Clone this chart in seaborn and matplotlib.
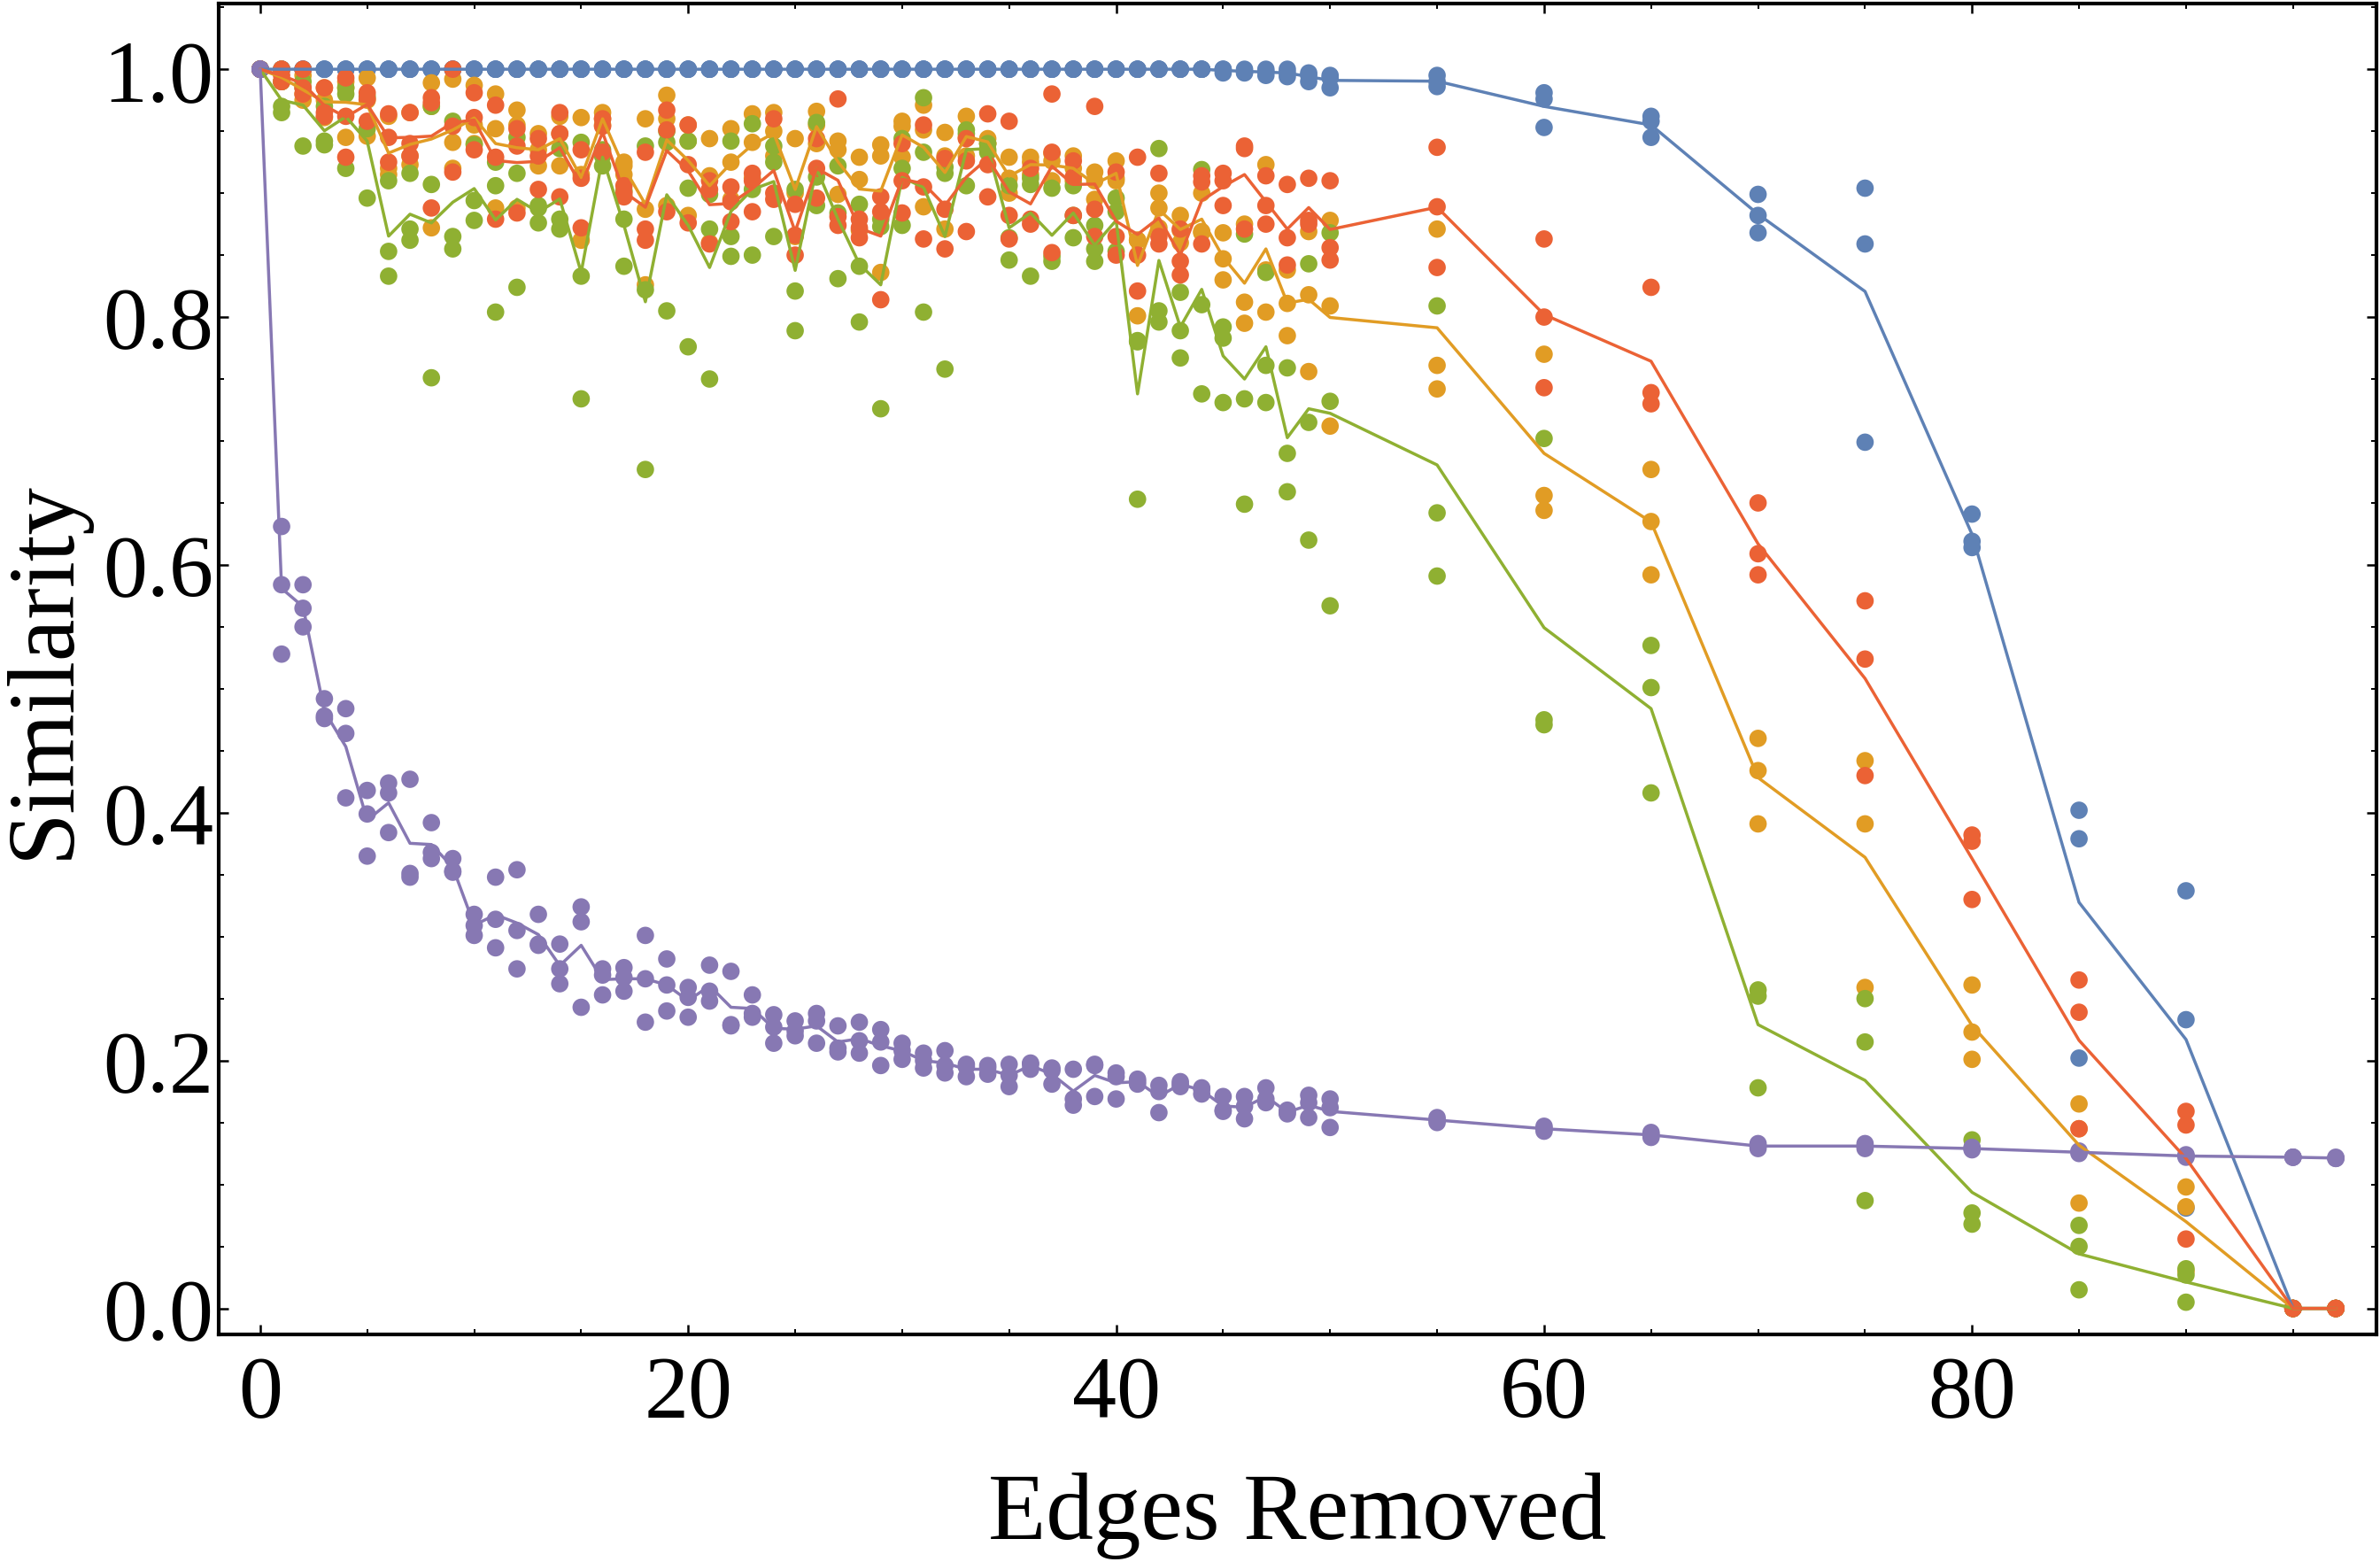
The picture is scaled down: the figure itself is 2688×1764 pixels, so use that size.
#!/usr/bin/env python
# coding: utf-8
# Similarity vs number of edges removed, 3 runs per point + mean line

import numpy as np
import pandas as pd
import matplotlib
matplotlib.use("Agg")
import matplotlib.pyplot as plt
from matplotlib.ticker import MultipleLocator
import seaborn as sns

#%% data (three runs per x value)

edges = list(range(51)) + [55, 60, 65, 70, 75, 80, 85, 90, 95, 97]

blue_sim = [(1, 1, 1)] * 45 + [
    (1, 1, 0.997), (1, 0.998, 0.997), (1, 0.998, 0.995), (1.0, 0.997, 0.994),
    (0.997, 0.995, 0.99), (0.995, 0.993, 0.985),
    (0.995, 0.99, 0.986), (0.981, 0.976, 0.953), (0.962, 0.958, 0.945),
    (0.899, 0.882, 0.868), (0.904, 0.859, 0.699), (0.641, 0.619, 0.614),
    (0.402, 0.379, 0.202), (0.337, 0.233, 0.081), (0, 0, 0), (0, 0, 0),
]

orange_sim = [
    (1, 1, 1), (1.0, 0.99, 0.99), (0.995, 0.98, 0.975), (0.985, 0.975, 0.961),
    (0.99, 0.985, 0.945), (0.993, 0.975, 0.946), (0.962, 0.92, 0.915),
    (0.965, 0.93, 0.923), (0.989, 0.97, 0.872), (0.992, 0.941, 0.92),
    (0.987, 0.955, 0.94), (0.98, 0.952, 0.888), (0.967, 0.955, 0.888),
    (0.948, 0.935, 0.922), (0.962, 0.948, 0.922), (0.961, 0.915, 0.862),
    (0.965, 0.96, 0.955), (0.925, 0.922, 0.915), (0.96, 0.887, 0.826),
    (0.979, 0.96, 0.89), (0.955, 0.942, 0.882), (0.944, 0.914, 0.86),
    (0.952, 0.925, 0.895), (0.964, 0.941, 0.912), (0.965, 0.95, 0.93),
    (0.944, 0.9, 0.865), (0.966, 0.955, 0.94), (0.942, 0.935, 0.899),
    (0.929, 0.911, 0.87), (0.939, 0.93, 0.836), (0.958, 0.954, 0.929),
    (0.971, 0.951, 0.889), (0.949, 0.93, 0.871), (0.962, 0.945, 0.93),
    (0.944, 0.94, 0.94), (0.929, 0.912, 0.9), (0.929, 0.925, 0.915),
    (0.932, 0.926, 0.91), (0.93, 0.92, 0.91), (0.917, 0.91, 0.895),
    (0.926, 0.912, 0.91), (0.862, 0.862, 0.801), (0.9, 0.888, 0.872),
    (0.882, 0.87, 0.86), (0.9, 0.869, 0.868), (0.868, 0.847, 0.83),
    (0.875, 0.812, 0.795), (0.923, 0.838, 0.804), (0.838, 0.811, 0.785),
    (0.869, 0.818, 0.756), (0.878, 0.809, 0.712),
    (0.871, 0.761, 0.742), (0.77, 0.656, 0.644), (0.677, 0.635, 0.592),
    (0.46, 0.434, 0.391), (0.442, 0.391, 0.259), (0.261, 0.223, 0.201),
    (0.165, 0.145, 0.085), (0.098, 0.082, 0.03), (0, 0, 0), (0, 0, 0),
]

green_sim = [
    (1, 1, 1), (0.99, 0.97, 0.965), (0.99, 0.985, 0.938), (0.97, 0.942, 0.939),
    (0.985, 0.98, 0.92), (0.978, 0.952, 0.896), (0.91, 0.853, 0.833),
    (0.916, 0.871, 0.862), (0.97, 0.907, 0.751), (0.958, 0.865, 0.855),
    (0.939, 0.894, 0.878), (0.925, 0.906, 0.804), (0.945, 0.916, 0.824),
    (0.89, 0.888, 0.876), (0.936, 0.879, 0.871), (0.941, 0.833, 0.734),
    (0.935, 0.93, 0.922), (0.902, 0.879, 0.841), (0.938, 0.822, 0.677),
    (0.95, 0.941, 0.805), (0.942, 0.904, 0.776), (0.899, 0.871, 0.75),
    (0.942, 0.865, 0.849), (0.956, 0.903, 0.85), (0.938, 0.925, 0.865),
    (0.903, 0.821, 0.789), (0.957, 0.913, 0.89), (0.922, 0.884, 0.831),
    (0.891, 0.841, 0.796), (0.879, 0.873, 0.726), (0.944, 0.92, 0.874),
    (0.977, 0.933, 0.804), (0.921, 0.916, 0.758), (0.951, 0.948, 0.906),
    (0.94, 0.935, 0.933), (0.906, 0.864, 0.846), (0.912, 0.907, 0.833),
    (0.904, 0.849, 0.845), (0.906, 0.882, 0.864), (0.874, 0.855, 0.845),
    (0.896, 0.885, 0.853), (0.781, 0.78, 0.653), (0.936, 0.805, 0.796),
    (0.82, 0.789, 0.767), (0.919, 0.81, 0.738), (0.792, 0.783, 0.731),
    (0.867, 0.734, 0.649), (0.836, 0.761, 0.731), (0.759, 0.69, 0.659),
    (0.843, 0.715, 0.62), (0.868, 0.732, 0.567),
    (0.809, 0.642, 0.591), (0.702, 0.475, 0.471), (0.535, 0.501, 0.416),
    (0.257, 0.252, 0.178), (0.25, 0.215, 0.087), (0.136, 0.077, 0.068),
    (0.067, 0.05, 0.015), (0.032, 0.027, 0.005), (0, 0, 0), (0, 0, 0),
]

red_sim = [
    (1, 1, 1), (1.0, 0.995, 0.99), (1.0, 0.985, 0.98), (0.985, 0.965, 0.962),
    (0.993, 0.962, 0.929), (0.981, 0.976, 0.958), (0.964, 0.945, 0.925),
    (0.965, 0.94, 0.93), (0.977, 0.973, 0.888), (1.0, 0.954, 0.917),
    (0.981, 0.961, 0.935), (0.971, 0.929, 0.879), (0.952, 0.938, 0.884),
    (0.944, 0.93, 0.903), (0.965, 0.948, 0.897), (0.935, 0.912, 0.872),
    (0.96, 0.954, 0.933), (0.906, 0.9, 0.897), (0.933, 0.871, 0.862),
    (0.967, 0.951, 0.885), (0.955, 0.923, 0.876), (0.91, 0.903, 0.859),
    (0.905, 0.893, 0.877), (0.916, 0.91, 0.885), (0.96, 0.9, 0.895),
    (0.891, 0.866, 0.85), (0.944, 0.92, 0.896), (0.976, 0.881, 0.874),
    (0.879, 0.872, 0.864), (0.897, 0.885, 0.814), (0.94, 0.91, 0.884),
    (0.955, 0.905, 0.863), (0.928, 0.887, 0.855), (0.944, 0.926, 0.869),
    (0.964, 0.923, 0.897), (0.958, 0.882, 0.863), (0.92, 0.879, 0.875),
    (0.98, 0.933, 0.852), (0.926, 0.913, 0.882), (0.97, 0.887, 0.865),
    (0.917, 0.865, 0.85), (0.929, 0.85, 0.821), (0.916, 0.865, 0.859),
    (0.871, 0.845, 0.834), (0.914, 0.909, 0.859), (0.916, 0.91, 0.89),
    (0.938, 0.936, 0.871), (0.914, 0.89, 0.875), (0.907, 0.864, 0.842),
    (0.912, 0.878, 0.875), (0.91, 0.856, 0.846),
    (0.937, 0.889, 0.84), (0.863, 0.8, 0.743), (0.824, 0.739, 0.73),
    (0.65, 0.609, 0.592), (0.571, 0.524, 0.43), (0.382, 0.377, 0.33),
    (0.265, 0.239, 0.145), (0.159, 0.148, 0.056), (0, 0, 0), (0, 0, 0),
]

purple_sim = [
    (1, 1, 1), (0.631, 0.584, 0.528), (0.584, 0.565, 0.55), (0.492, 0.478, 0.476),
    (0.484, 0.464, 0.412), (0.418, 0.399, 0.365), (0.424, 0.416, 0.384),
    (0.427, 0.351, 0.348), (0.392, 0.368, 0.363), (0.363, 0.353, 0.352),
    (0.318, 0.309, 0.301), (0.348, 0.314, 0.291), (0.354, 0.305, 0.274),
    (0.318, 0.294, 0.293), (0.294, 0.274, 0.262), (0.324, 0.312, 0.243),
    (0.274, 0.269, 0.253), (0.275, 0.267, 0.256), (0.301, 0.266, 0.231),
    (0.282, 0.261, 0.24), (0.259, 0.251, 0.235), (0.277, 0.256, 0.248),
    (0.272, 0.229, 0.228), (0.253, 0.238, 0.235), (0.237, 0.227, 0.214),
    (0.232, 0.224, 0.22), (0.238, 0.232, 0.214), (0.228, 0.21, 0.207),
    (0.231, 0.216, 0.206), (0.225, 0.215, 0.196), (0.214, 0.208, 0.201),
    (0.206, 0.2, 0.194), (0.208, 0.196, 0.19), (0.197, 0.195, 0.187),
    (0.196, 0.194, 0.189), (0.197, 0.188, 0.179), (0.198, 0.197, 0.193),
    (0.194, 0.192, 0.181), (0.193, 0.169, 0.164), (0.197, 0.196, 0.171),
    (0.19, 0.187, 0.169), (0.185, 0.183, 0.181), (0.18, 0.175, 0.158),
    (0.183, 0.181, 0.179), (0.178, 0.177, 0.173), (0.171, 0.16, 0.159),
    (0.171, 0.163, 0.153), (0.178, 0.169, 0.166), (0.16, 0.158, 0.157),
    (0.172, 0.166, 0.154), (0.169, 0.162, 0.146),
    (0.154, 0.152, 0.15), (0.147, 0.145, 0.143), (0.142, 0.14, 0.138),
    (0.133, 0.131, 0.129), (0.133, 0.131, 0.129), (0.13, 0.129, 0.128),
    (0.127, 0.126, 0.125), (0.124, 0.123, 0.122), (0.122, 0.122, 0.122),
    (0.122, 0.121, 0.121),
]

series = {
    "blue": blue_sim,
    "orange": orange_sim,
    "green": green_sim,
    "red": red_sim,
    "purple": purple_sim,
}
palette = {
    "blue": "#5E81B5",
    "orange": "#E19C24",
    "green": "#8FB032",
    "red": "#EB6235",
    "purple": "#8778B3",
}

#%% long table

rows = []
for name, vals in series.items():
    for x, triple in zip(edges, vals):
        for v in triple:
            rows.append((name, x, v))
df = pd.DataFrame(rows, columns=["series", "edges", "similarity"])

#%% plot

sns.set_style("ticks")
plt.rcParams["font.family"] = ["Liberation Serif", "DejaVu Serif"]
plt.rcParams["text.color"] = "black"
plt.rcParams["axes.labelcolor"] = "black"
plt.rcParams["xtick.color"] = "black"
plt.rcParams["ytick.color"] = "black"

fig = plt.figure(figsize=(26.88, 17.65), dpi=100)
ax = fig.add_axes([247 / 2688, 1 - 1508 / 1765, (2684 - 247) / 2688, (1508 - 5) / 1765])

sns.scatterplot(data=df, x="edges", y="similarity", hue="series", palette=palette,
                s=200, linewidth=0, legend=False, ax=ax, zorder=1)
sns.lineplot(data=df, x="edges", y="similarity", hue="series", palette=palette,
             estimator="mean", errorbar=None, linewidth=2.5, legend=False, ax=ax, zorder=2)

ax.set_xlim(-1.94, 98.9)
ax.set_ylim(-0.021, 1.053)
ax.xaxis.set_major_locator(MultipleLocator(20))
ax.xaxis.set_minor_locator(MultipleLocator(5))
ax.yaxis.set_major_locator(MultipleLocator(0.2))
ax.yaxis.set_minor_locator(MultipleLocator(0.05))
ax.yaxis.set_major_formatter(matplotlib.ticker.FormatStrFormatter("%.1f"))

ax.tick_params(which="both", direction="in", top=True, right=True,
               color="black", labelcolor="black")
ax.tick_params(which="major", length=8, width=1.8, labelsize=72)
ax.tick_params(axis="x", which="major", pad=17)
ax.tick_params(axis="y", which="major", pad=4)
ax.tick_params(which="minor", length=4.5, width=1.4)
for sp in ax.spines.values():
    sp.set_linewidth(3)
    sp.set_color("black")

ax.set_xlabel("Edges Removed", fontsize=77, labelpad=30, color="black")
ax.set_ylabel("Similarity", fontsize=77, labelpad=12, color="black")

fig.savefig("out.png", dpi=100)
